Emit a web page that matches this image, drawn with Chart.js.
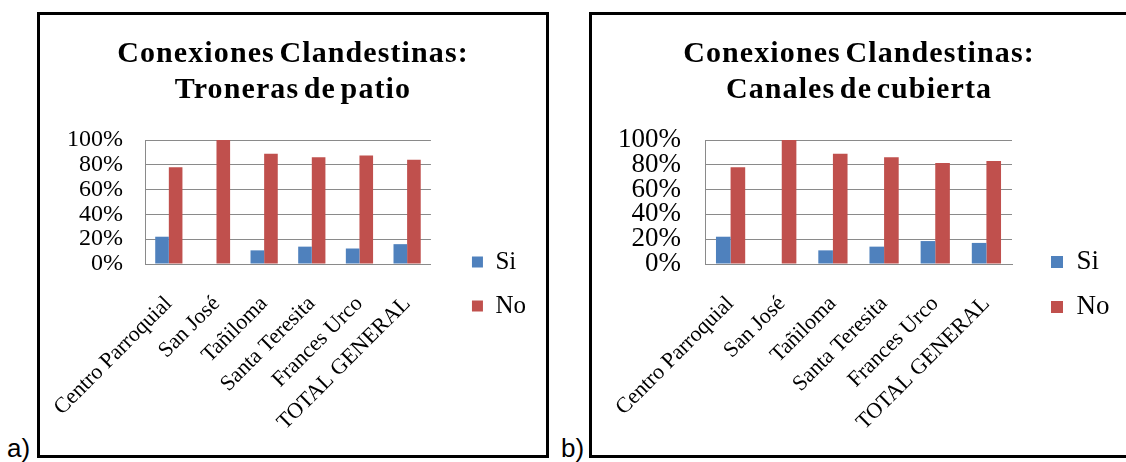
<!DOCTYPE html>
<html lang="es">
<head>
<meta charset="utf-8">
<title>Conexiones Clandestinas</title>
<script src="https://cdn.jsdelivr.net/npm/chart.js@4.4.1/dist/chart.umd.min.js"></script>
<style>
  html, body { margin: 0; padding: 0; background: #fff; }
  body { width: 1126px; height: 462px; position: relative; overflow: hidden; }
  .panel { position: absolute; top: 12px; height: 446px; border: 3px solid #000; box-sizing: border-box; background: #fff; }
  .panel canvas { position: absolute; left: 0; top: 0; }
  .ttl { position: absolute; left: 0; right: 0; top: 19px; z-index: 1; text-align: center; color: #000;
         font: bold 30px/36px "Liberation Serif", "Times New Roman", serif; letter-spacing: 1.1px; word-spacing: -4px; }
  .tag { position: absolute; top: 435px; font: 26px/26px "Liberation Sans", Arial, sans-serif; color: #000; }
</style>
</head>
<body>

<div class="panel" style="left:37px; width:512px;">
  <div class="ttl">Conexiones Clandestinas:<br>Troneras de patio</div>
  <canvas id="chartTroneras" width="506" height="440"></canvas>
</div>
<span class="tag" style="left:7px;">a)</span>

<div class="panel" style="left:589px; width:540px;">
  <div class="ttl">Conexiones Clandestinas:<br>Canales de cubierta</div>
  <canvas id="chartCanales" width="534" height="440"></canvas>
</div>
<span class="tag" style="left:561px;">b)</span>

<script>
// Sectors surveyed, plus the overall total
const categories = ['Centro Parroquial', 'San José', 'Tañiloma', 'Santa Teresita', 'Frances Urco', 'TOTAL GENERAL'];
const seriesNames = ['Si', 'No'];

// a) Troneras de patio (% of houses)
const tronerasSi = [22, 0, 11, 14, 12.5, 16];
const tronerasNo = [78, 100, 89, 86, 87.5, 84];

// b) Canales de cubierta (% of houses)
const canalesSi = [22, 0, 11, 14, 18.5, 17];
const canalesNo = [78, 100, 89, 86, 81.5, 83];

// Value axis ticks
const percentTicks = [0, 20, 40, 60, 80, 100];

const SERIF = '"Liberation Serif", "Times New Roman", serif';
const SI_COLOR = '#4F81BD';
const NO_COLOR = '#C0504D';
const GRID_COLOR = '#8a8a8a';

// Moves the legend block to the right, leaving a clear gap after the plot area
const legendGap = {
  id: 'legendGap',
  afterLayout(chart, args, opts) {
    const lg = chart.legend;
    if (lg && opts.gap) {
      lg.left += opts.gap;
      lg.right += opts.gap;
    }
  }
};

function buildChart(canvasId, siValues, noValues, look) {
  return new Chart(document.getElementById(canvasId), {
    type: 'bar',
    data: {
      labels: categories,
      datasets: [
        { label: seriesNames[0], data: siValues, backgroundColor: SI_COLOR, borderWidth: 0 },
        { label: seriesNames[1], data: noValues, backgroundColor: NO_COLOR, borderWidth: 0 }
      ]
    },
    options: {
      responsive: false,
      animation: false,
      events: [],
      layout: { padding: { top: 125, left: 0, right: look.padRight, bottom: look.padBottom } },
      datasets: { bar: { categoryPercentage: 2 / 3.5, barPercentage: 1 } },
      scales: {
        x: {
          grid: { display: false, drawTicks: false },
          border: { display: true, color: GRID_COLOR, width: 1 },
          ticks: {
            color: '#000',
            font: { family: SERIF, size: look.xFont },
            minRotation: 45, maxRotation: 45,
            autoSkip: false,
            padding: look.xPad
          },
          // slanted labels may hang past the value axis; the panel has room for them
          afterFit: (s) => { s.height = look.xHeight; s.paddingLeft = 0; s.paddingRight = 0; }
        },
        y: {
          min: percentTicks[0],
          max: percentTicks[percentTicks.length - 1],
          grid: { color: GRID_COLOR, lineWidth: 1, drawTicks: false },
          border: { display: true, color: GRID_COLOR, width: 1 },
          ticks: {
            stepSize: percentTicks[1] - percentTicks[0],
            autoSkip: false,
            color: '#000',
            font: { family: SERIF, size: look.yFont, lineHeight: 1 },
            padding: look.yPad,
            callback: (v) => v + '%'
          },
          afterFit: (s) => { s.width = look.yWidth; }
        }
      },
      plugins: {
        title: { display: false },
        tooltip: { enabled: false },
        legend: {
          position: 'right',
          align: 'center',
          labels: {
            color: '#000',
            font: { family: SERIF, size: look.legendFont },
            boxWidth: look.box,
            boxHeight: look.box,
            padding: look.legendPad
          }
        },
        legendGap: { gap: look.gap }
      }
    },
    plugins: [legendGap]
  });
}

buildChart('chartTroneras', tronerasSi, tronerasNo, {
  padRight: 32, padBottom: 27, xHeight: 164, yWidth: 105,
  xFont: 22, xPad: 27, yFont: 24, yPad: 22,
  legendFont: 25, legendPad: 19, box: 11, gap: 22
});

buildChart('chartCanales', canalesSi, canalesNo, {
  padRight: 27.5, padBottom: 26, xHeight: 165, yWidth: 113,
  xFont: 22, xPad: 27, yFont: 27, yPad: 24,
  legendFont: 27, legendPad: 18, box: 12, gap: 21
});
</script>
</body>
</html>
